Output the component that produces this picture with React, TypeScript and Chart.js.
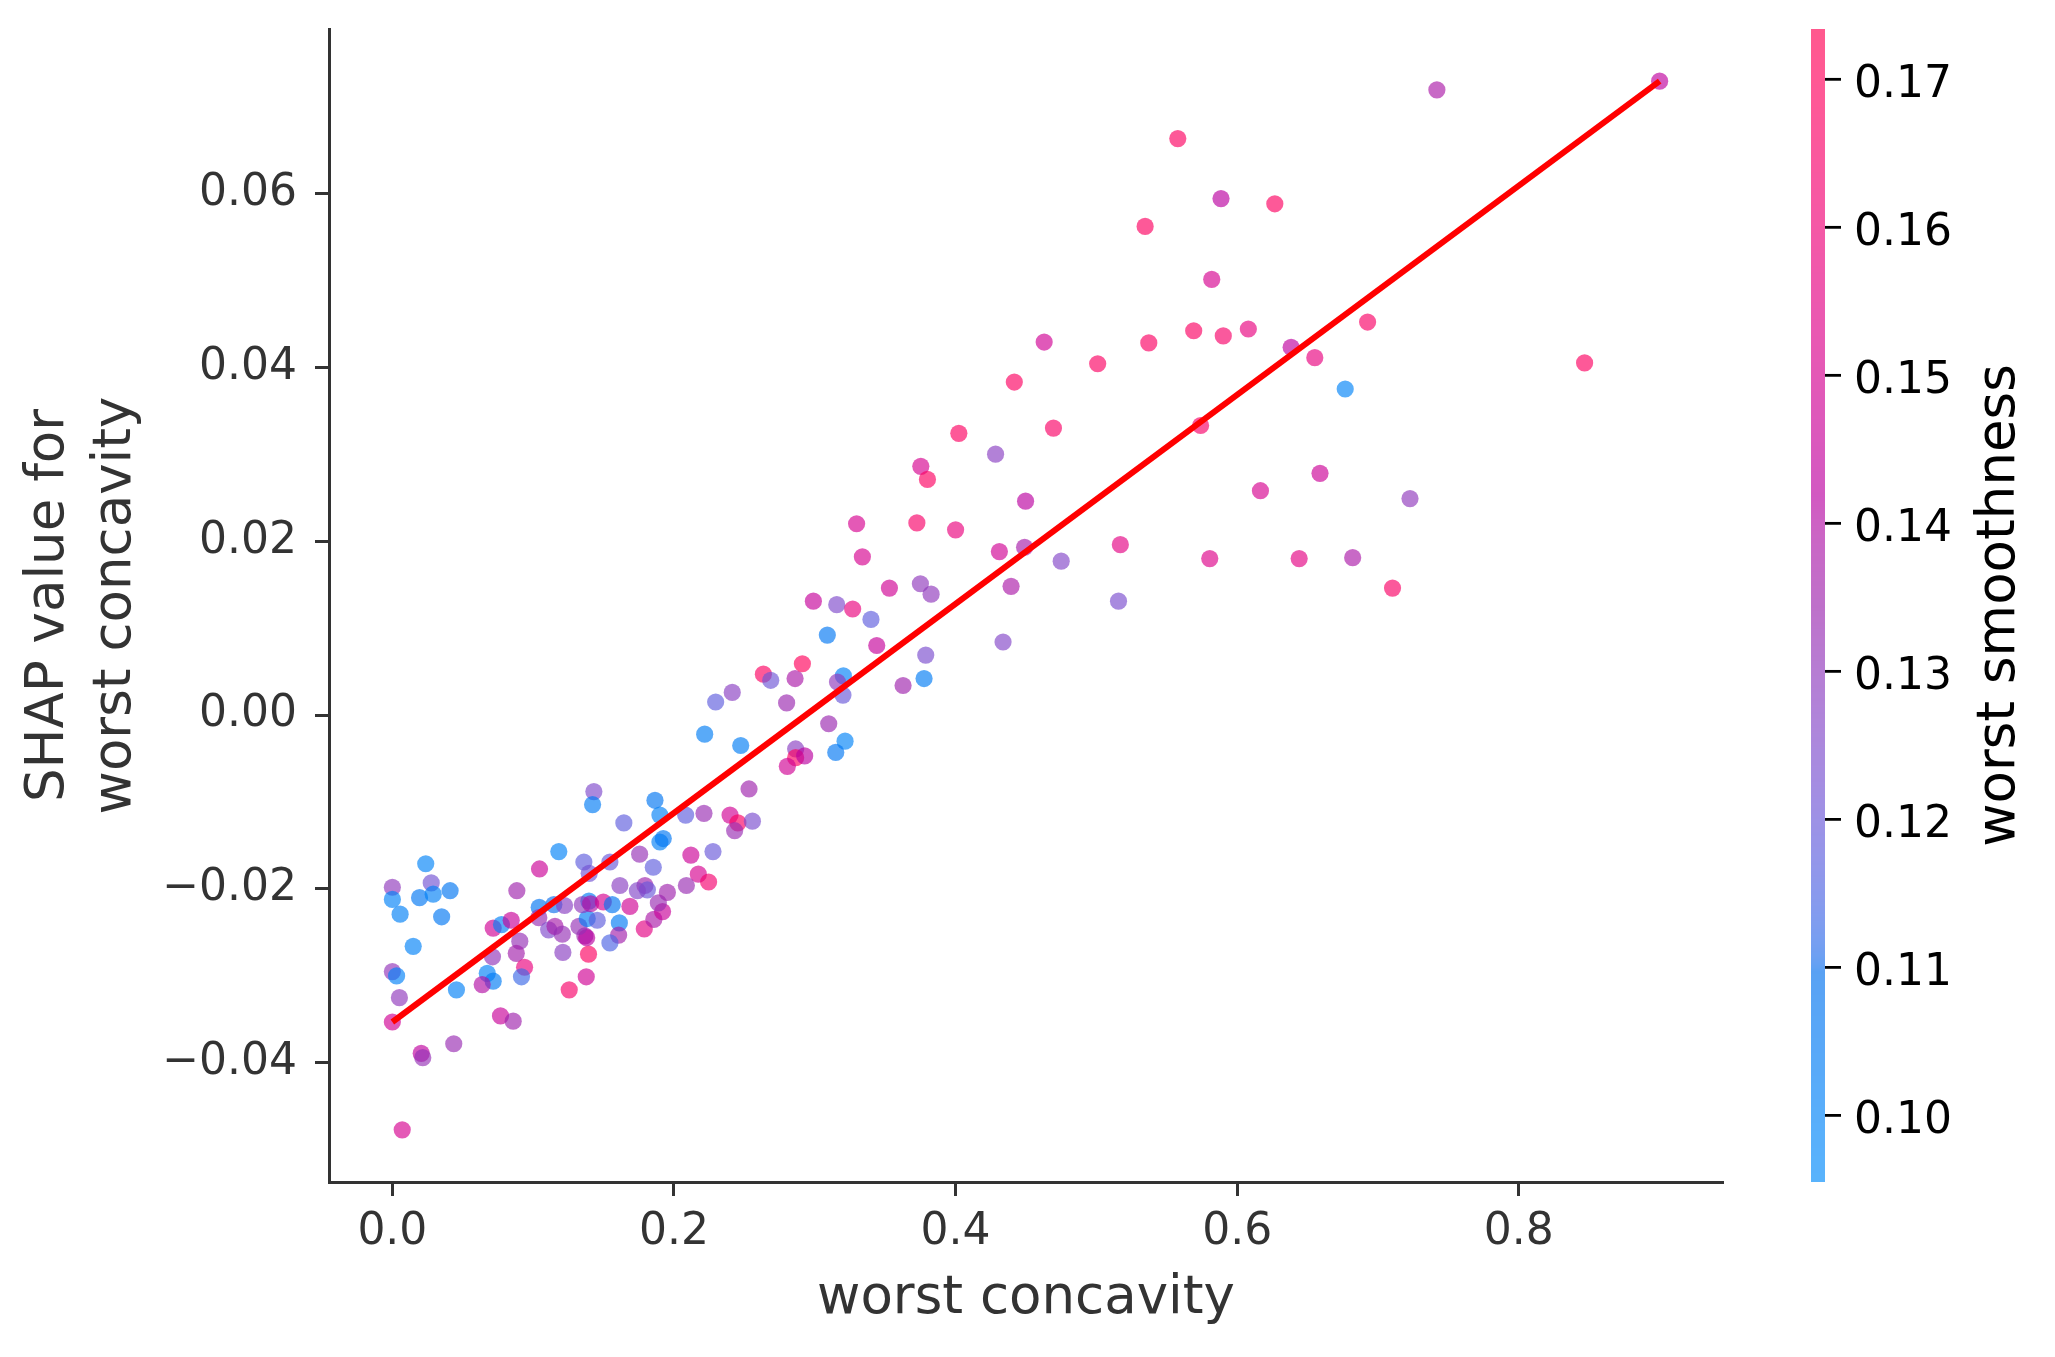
import React, { useEffect, useRef } from "react";
import { Chart, registerables } from "chart.js";

Chart.register(...registerables);

// ---------------- data ----------------
const worstConcavity = [
  0.0, 0.0, 0.0055, 0.0237, 0.0193, 0.0276, 0.029, 0.041, 0.035, 0.0148,
  0.0, 0.003, 0.005, 0.0, 0.0205, 0.0216, 0.0436, 0.007, 0.0455, 0.0674,
  0.0716, 0.0638, 0.0711, 0.0716, 0.0775, 0.0844, 0.0905, 0.088, 0.0939, 0.0917,
  0.0768, 0.0858, 0.0884, 0.1045, 0.1182, 0.1043, 0.104, 0.1147, 0.1223, 0.111,
  0.1155, 0.1207, 0.1211, 0.1256, 0.1377, 0.1393, 0.1367, 0.138, 0.1325, 0.1384,
  0.1455, 0.1396, 0.1349, 0.1408, 0.1498, 0.1562, 0.1612, 0.1607, 0.1545, 0.1687,
  0.1789, 0.1857, 0.1919, 0.1889, 0.1953, 0.1794, 0.1811, 0.174, 0.1616, 0.1853,
  0.19, 0.1924, 0.1756, 0.1545, 0.136, 0.1398, 0.1644, 0.212, 0.2173, 0.2246,
  0.2088, 0.2277, 0.1431, 0.1422, 0.1865, 0.19, 0.2083, 0.2213, 0.2398, 0.2454,
  0.2431, 0.2557, 0.2533, 0.2218, 0.2474, 0.2296, 0.2414, 0.2635, 0.2687, 0.286,
  0.2912, 0.28, 0.2864, 0.2864, 0.2928, 0.2805, 0.3099, 0.3215, 0.3149, 0.3203,
  0.3161, 0.32, 0.3089, 0.299, 0.3156, 0.3269, 0.3399, 0.344, 0.353, 0.3338,
  0.375, 0.3826, 0.3788, 0.3776, 0.3627, 0.4337, 0.4394, 0.475,
  0.3297, 0.3725, 0.3753, 0.38, 0.4, 0.4023, 0.4284, 0.4311, 0.449, 0.4497,
  0.4417, 0.4629, 0.4695, 0.5009, 0.517, 0.5157, 0.5346, 0.5372, 0.5578, 0.5691,
  0.574, 0.5819, 0.5805, 0.5885, 0.5901, 0.6079, 0.6165, 0.6267, 0.6383, 0.644,
  0.6551, 0.6588, 0.6767, 0.682, 0.6926, 0.7103, 0.7227, 0.7418, 0.8467, 0.9,
];

const shapValues = [
  -0.0198, -0.0212, -0.0229, -0.0171, -0.021, -0.0193, -0.0206, -0.0202, -0.0232, -0.0266,
  -0.0295, -0.03, -0.0325, -0.0353, -0.0389, -0.0394, -0.0378, -0.0477, -0.0316, -0.0297,
  -0.0306, -0.031, -0.0278, -0.0245, -0.0241, -0.0236, -0.026, -0.0274, -0.029, -0.0301,
  -0.0346, -0.0352, -0.0202, -0.0177, -0.0157, -0.0221, -0.0233, -0.0218, -0.0219, -0.0247,
  -0.0243, -0.0252, -0.0273, -0.0316, -0.0301, -0.0275, -0.0254, -0.0256, -0.0243, -0.0234,
  -0.0236, -0.0214, -0.0218, -0.0217, -0.0215, -0.0218, -0.0239, -0.0253, -0.0262, -0.022,
  -0.0246, -0.0235, -0.0226, -0.0216, -0.0204, -0.0196, -0.0201, -0.0202, -0.0196, -0.0175,
  -0.0146, -0.0142, -0.016, -0.0169, -0.0169, -0.0182, -0.0124, -0.0161, -0.0183, -0.0192,
  -0.0196, -0.0157, -0.0088, -0.0103, -0.0098, -0.0115, -0.0115, -0.0113, -0.0115, -0.0124,
  -0.0133, -0.0122, -0.0085, -0.0022, -0.0035, 0.0015, 0.0026, 0.0047, 0.004, 0.0042,
  0.0059, 0.0014, -0.0039, -0.0049, -0.0047, -0.0059, -0.001, -0.003, -0.0043, 0.0045,
  0.0038, 0.0023, 0.0092, 0.0131, 0.0127, 0.0122, 0.011, 0.008, 0.0146, 0.0182,
  0.0151, 0.0139, 0.0069, 0.0042, 0.0034, 0.0084, 0.0148, 0.0177,
  0.022, 0.0221, 0.0286, 0.0271, 0.0213, 0.0324, 0.03, 0.0188, 0.0193, 0.0246,
  0.0383, 0.0429, 0.033, 0.0404, 0.0196, 0.0131, 0.0562, 0.0428, 0.0663, 0.0442,
  0.0333, 0.0501, 0.018, 0.0594, 0.0436, 0.0444, 0.0258, 0.0588, 0.0423, 0.018,
  0.0411, 0.0278, 0.0375, 0.0181, 0.0452, 0.0146, 0.0249, 0.0719, 0.0405, 0.0729,
];

const worstSmoothness = [
  0.13, 0.101, 0.102, 0.1, 0.106, 0.122, 0.102, 0.107, 0.106, 0.101,
  0.131, 0.101, 0.13, 0.148, 0.143, 0.132, 0.133, 0.15, 0.102, 0.101,
  0.104, 0.14, 0.131, 0.148, 0.102, 0.146, 0.132, 0.136, 0.158, 0.113,
  0.146, 0.135, 0.135, 0.147, 0.101, 0.107, 0.133, 0.11, 0.128, 0.125,
  0.137, 0.132, 0.128, 0.165, 0.148, 0.168, 0.135, 0.142, 0.132, 0.103,
  0.118, 0.104, 0.13, 0.14, 0.15, 0.107, 0.104, 0.136, 0.115, 0.148,
  0.155, 0.138, 0.146, 0.133, 0.135, 0.135, 0.12, 0.126, 0.128, 0.118,
  0.102, 0.106, 0.132, 0.12, 0.118, 0.122, 0.118, 0.147, 0.15, 0.163,
  0.133, 0.12, 0.125, 0.104, 0.107, 0.102, 0.118, 0.133, 0.148, 0.167,
  0.133, 0.124, 0.135, 0.103, 0.103, 0.118, 0.128, 0.168, 0.121, 0.138,
  0.17, 0.134, 0.128, 0.168, 0.142, 0.148, 0.134, 0.1, 0.106, 0.101,
  0.13, 0.12, 0.106, 0.145, 0.125, 0.158, 0.118, 0.145, 0.148, 0.15,
  0.13, 0.13, 0.124, 0.104, 0.135, 0.126, 0.138, 0.126,
  0.15, 0.165, 0.15, 0.168, 0.158, 0.168, 0.128, 0.148, 0.137, 0.142,
  0.168, 0.148, 0.166, 0.167, 0.155, 0.124, 0.168, 0.167, 0.168, 0.167,
  0.165, 0.15, 0.153, 0.142, 0.165, 0.157, 0.15, 0.168, 0.143, 0.155,
  0.157, 0.147, 0.1, 0.138, 0.166, 0.166, 0.13, 0.138, 0.168, 0.143,
];

const fitLineX = [0.0, 0.9];
const fitLineY = [-0.0353, 0.0729];

const xTickValues = [0, 0.2, 0.4, 0.6, 0.8];
const xTickLabels = ["0.0", "0.2", "0.4", "0.6", "0.8"];
const yTickValues = [-0.04, -0.02, 0, 0.02, 0.04, 0.06];
const yTickLabels = ["\u22120.04", "\u22120.02", "0.00", "0.02", "0.04", "0.06"];
const colorbarTickValues = [0.1, 0.11, 0.12, 0.13, 0.14, 0.15, 0.16, 0.17];
const colorbarTickLabels = ["0.10", "0.11", "0.12", "0.13", "0.14", "0.15", "0.16", "0.17"];
const colorMin = 0.0955;
const colorMax = 0.1734;

const xLabel = "worst concavity";
const yLabel = ["SHAP value for", "worst concavity"];
const colorLabel = "worst smoothness";

// ---------------- helpers ----------------
const FONT = "'DejaVu Sans', 'Liberation Sans', sans-serif";
const ALPHA = 0.65;

function redBlue(tIn: number): [number, number, number] {
  const t = Math.min(1, Math.max(0, tIn));
  const L = t < 0.5 ? 54 + (40 - 54) * (t / 0.5) : 40 + (54 - 40) * ((t - 0.5) / 0.5);
  const C = 70 + 20 * t;
  const H0 = 4.6588;
  const H1 = 0.35470565 + 2 * Math.PI;
  const H = H0 + (H1 - H0) * t;
  const a = C * Math.cos(H);
  const b = C * Math.sin(H);
  const fy = (L + 16) / 116;
  const fx = fy + a / 500;
  const fz = fy - b / 200;
  const finv = (f: number) => (f > 6 / 29 ? f * f * f : 3 * (6 / 29) * (6 / 29) * (f - 4 / 29));
  const X = 0.95047 * finv(fx);
  const Y = finv(fy);
  const Z = 1.08883 * finv(fz);
  const lin = [
    3.2406 * X - 1.5372 * Y - 0.4986 * Z,
    -0.9689 * X + 1.8758 * Y + 0.0415 * Z,
    0.0557 * X - 0.204 * Y + 1.057 * Z,
  ];
  const out = lin.map((v) => {
    const c = v > 0.0031308 ? 1.055 * Math.pow(Math.max(v, 0), 1 / 2.4) - 0.055 : 12.92 * v;
    return Math.round(Math.min(1, Math.max(0, c)) * 255);
  });
  return [out[0], out[1], out[2]];
}

function colorFor(v: number, alpha: number) {
  const [r, g, b] = redBlue((v - colorMin) / (colorMax - colorMin));
  return `rgba(${r},${g},${b},${alpha})`;
}

const colorbarPlugin = {
  id: "colorbarPlugin",
  afterDraw(chart: any) {
    const ctx = chart.ctx as CanvasRenderingContext2D;
    const { top, bottom } = chart.chartArea;
    const x0 = 1811;
    const w = 14;
    ctx.save();
    for (let y = Math.floor(top); y < Math.ceil(bottom); y++) {
      const v = colorMax - ((y + 0.5 - top) / (bottom - top)) * (colorMax - colorMin);
      ctx.fillStyle = colorFor(v, ALPHA);
      ctx.fillRect(x0, y, w, 1);
    }
    ctx.strokeStyle = "#000";
    ctx.lineWidth = 2.8;
    ctx.fillStyle = "#000";
    ctx.font = `44px ${FONT}`;
    ctx.textAlign = "left";
    ctx.textBaseline = "alphabetic";
    colorbarTickValues.forEach((v, i) => {
      const y = bottom - ((v - colorMin) / (colorMax - colorMin)) * (bottom - top);
      ctx.beginPath();
      ctx.moveTo(x0 + w, y);
      ctx.lineTo(x0 + w + 16, y);
      ctx.stroke();
      ctx.fillText(colorbarTickLabels[i], 1854, y + 17.5);
    });
    ctx.translate(2000, (top + bottom) / 2);
    ctx.rotate(-Math.PI / 2);
    ctx.font = `53px ${FONT}`;
    ctx.textAlign = "center";
    ctx.textBaseline = "middle";
    ctx.fillText(colorLabel, 0, 0);
    ctx.restore();
  },
};

export default function App() {
  const canvasRef = useRef<HTMLCanvasElement | null>(null);

  useEffect(() => {
    document.body.style.margin = "0";
    const canvas = canvasRef.current;
    if (!canvas) return;

    const points = worstConcavity.map((x, i) => ({ x, y: shapValues[i] }));
    const colors = worstSmoothness.map((s) => colorFor(s, ALPHA));
    const linePts = fitLineX.map((x, i) => ({ x, y: fitLineY[i] }));

    const chart = new Chart(canvas, {
      type: "scatter",
      data: {
        datasets: [
          {
            type: "line",
            data: linePts,
            borderColor: "#ff0000",
            borderWidth: 6,
            pointRadius: 0,
            fill: false,
            order: 0,
          } as any,
          {
            type: "scatter",
            data: points,
            backgroundColor: colors,
            borderWidth: 0,
            pointRadius: 8.6,
            pointHoverRadius: 8.6,
            order: 1,
          } as any,
        ],
      },
      options: {
        responsive: false,
        animation: false,
        devicePixelRatio: 1,
        layout: { padding: { left: 0, top: 29, right: 332, bottom: 0 } },
        plugins: { legend: { display: false }, tooltip: { enabled: false } },
        scales: {
          x: {
            type: "linear",
            min: -0.045,
            max: 0.945,
            afterFit: (s: any) => {
              s.height = 175;
              s.paddingLeft = 0;
              s.paddingRight = 0;
            },
            afterBuildTicks: (s: any) => {
              s.ticks = xTickValues.map((v) => ({ value: v }));
            },
            ticks: {
              callback: (_v: any, i: number) => xTickLabels[i],
              font: { family: FONT, size: 44 },
              color: "#333333",
              padding: 10,
              maxRotation: 0,
              autoSkip: false,
            },
            grid: {
              display: true,
              drawOnChartArea: false,
              drawTicks: true,
              tickLength: 14,
              tickWidth: 3,
              tickColor: "#333333",
            },
            border: { display: true, color: "#333333", width: 3 },
            title: {
              display: true,
              text: xLabel,
              color: "#333333",
              font: { family: FONT, size: 53, lineHeight: 1.26 },
              padding: { top: 0, bottom: 24 },
            },
          },
          y: {
            type: "linear",
            min: -0.0537,
            max: 0.0789,
            afterFit: (s: any) => {
              s.width = 329;
              s.paddingTop = 0;
              s.paddingBottom = 0;
            },
            afterBuildTicks: (s: any) => {
              s.ticks = yTickValues.map((v) => ({ value: v }));
            },
            ticks: {
              callback: (_v: any, i: number) => yTickLabels[i],
              font: { family: FONT, size: 44 },
              color: "#333333",
              padding: 18,
              autoSkip: false,
            },
            grid: {
              display: true,
              drawOnChartArea: false,
              drawTicks: true,
              tickLength: 14,
              tickWidth: 3,
              tickColor: "#333333",
            },
            border: { display: true, color: "#333333", width: 3 },
            title: {
              display: true,
              text: yLabel,
              color: "#333333",
              font: { family: FONT, size: 53, lineHeight: 1.26 },
              padding: { top: 16, bottom: 0 },
            },
          },
        },
      },
      plugins: [colorbarPlugin],
    });

    return () => {
      chart.destroy();
    };
  }, []);

  return (
    <div style={{ position: "absolute", left: 0, top: 0, width: 2055, height: 1357, overflow: "hidden", background: "#fff" }}>
      <canvas ref={canvasRef} width={2055} height={1357} style={{ display: "block" }} />
    </div>
  );
}
